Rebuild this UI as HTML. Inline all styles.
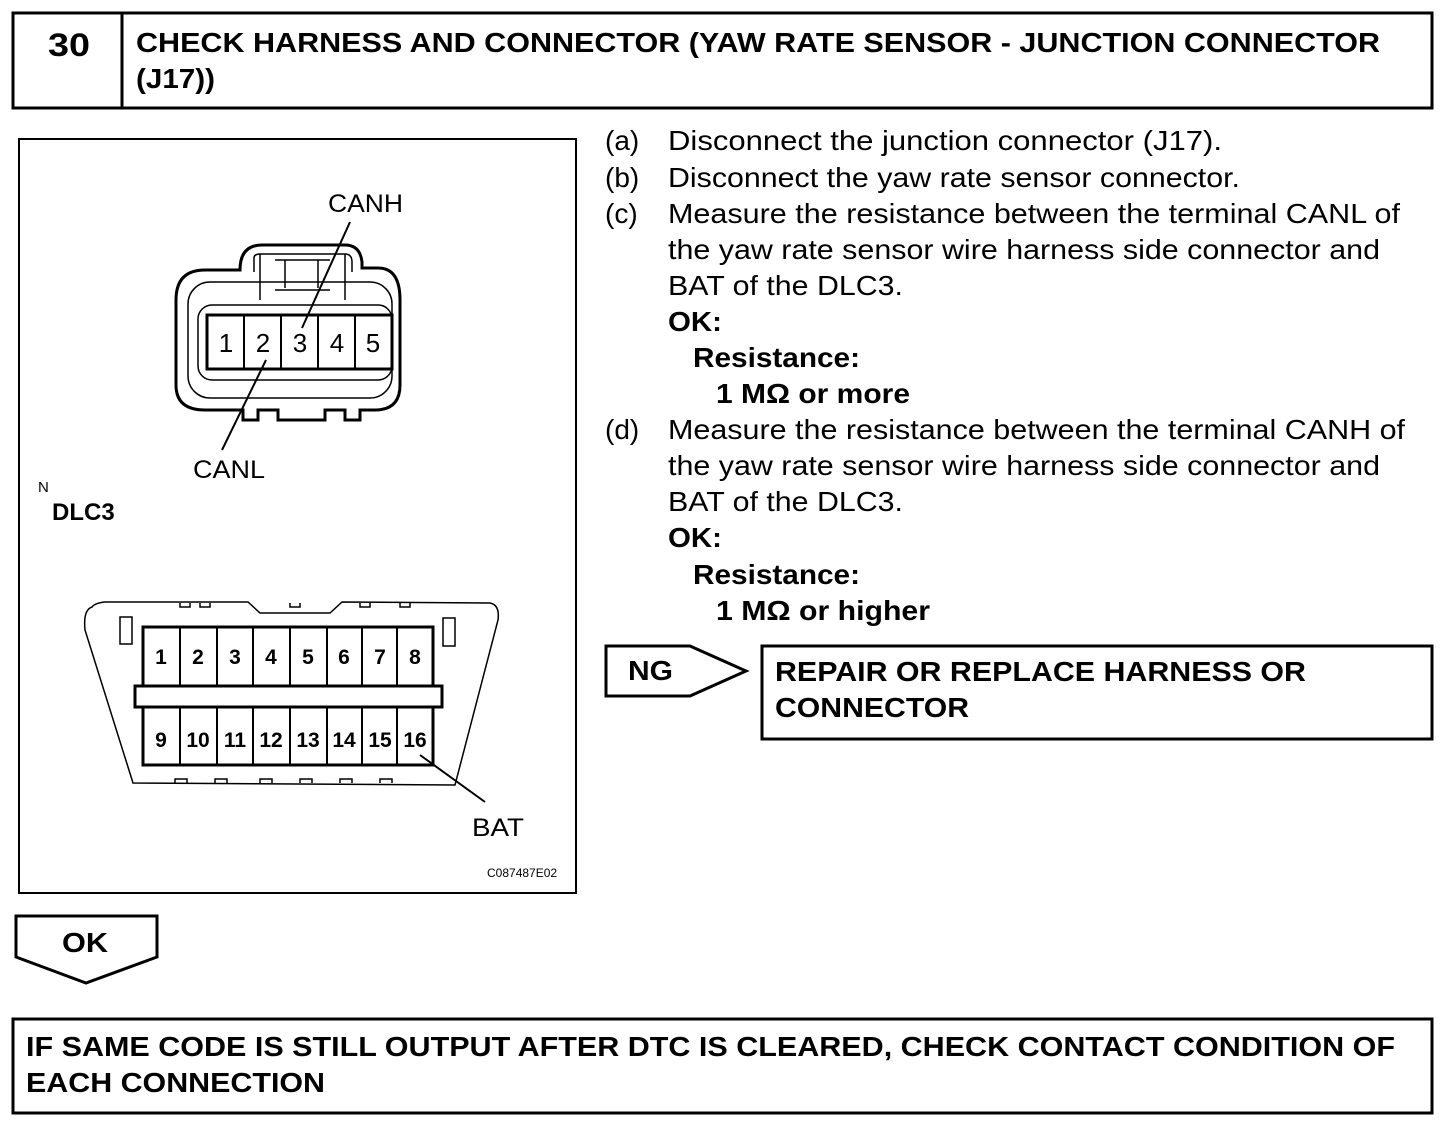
<!DOCTYPE html>
<html><head><meta charset="utf-8"><style>
html,body{margin:0;padding:0;background:#fff}
svg{display:block}
text{font-family:"Liberation Sans",Arial,sans-serif;fill:#000}
.b{font-weight:bold}
</style></head><body>
<svg width="1456" height="1134" viewBox="0 0 1456 1134" xmlns="http://www.w3.org/2000/svg">
<g fill="none" stroke="#000" stroke-width="3">
<rect x="13" y="13" width="1419" height="95"/>
<line x1="122" y1="13" x2="122" y2="108"/>
<rect x="19" y="139" width="557" height="754" stroke-width="2"/>
<polygon points="606,646 690,646 746,671 690,696 606,696"/>
<rect x="762" y="646" width="670" height="93"/>
<polygon points="16,916 157,916 157,957 86,983 16,957"/>
<rect x="13" y="1019" width="1419" height="94"/>
</g>
<text x="48" y="56" class="b" font-size="32" textLength="42" lengthAdjust="spacingAndGlyphs">30</text>
<text x="136" y="52" class="b" font-size="28" textLength="1244" lengthAdjust="spacingAndGlyphs">CHECK HARNESS AND CONNECTOR (YAW RATE SENSOR - JUNCTION CONNECTOR</text>
<text x="136" y="88" class="b" font-size="28" textLength="79" lengthAdjust="spacingAndGlyphs">(J17))</text>

<g font-size="28">
<text x="605" y="150">(a)</text><text x="668" y="150" textLength="554" lengthAdjust="spacingAndGlyphs">Disconnect the junction connector (J17).</text>
<text x="605" y="187">(b)</text><text x="668" y="187" textLength="572" lengthAdjust="spacingAndGlyphs">Disconnect the yaw rate sensor connector.</text>
<text x="605" y="223">(c)</text><text x="668" y="223" textLength="732" lengthAdjust="spacingAndGlyphs">Measure the resistance between the terminal CANL of</text>
<text x="668" y="259" textLength="712" lengthAdjust="spacingAndGlyphs">the yaw rate sensor wire harness side connector and</text>
<text x="668" y="295" textLength="235" lengthAdjust="spacingAndGlyphs">BAT of the DLC3.</text>
<text x="668" y="331" class="b" textLength="54" lengthAdjust="spacingAndGlyphs">OK:</text>
<text x="693" y="367" class="b" textLength="167" lengthAdjust="spacingAndGlyphs">Resistance:</text>
<text x="716" y="403" class="b" textLength="194" lengthAdjust="spacingAndGlyphs">1 MΩ or more</text>
<text x="605" y="439">(d)</text><text x="668" y="439" textLength="737" lengthAdjust="spacingAndGlyphs">Measure the resistance between the terminal CANH of</text>
<text x="668" y="475" textLength="712" lengthAdjust="spacingAndGlyphs">the yaw rate sensor wire harness side connector and</text>
<text x="668" y="511" textLength="235" lengthAdjust="spacingAndGlyphs">BAT of the DLC3.</text>
<text x="668" y="547" class="b" textLength="54" lengthAdjust="spacingAndGlyphs">OK:</text>
<text x="693" y="584" class="b" textLength="167" lengthAdjust="spacingAndGlyphs">Resistance:</text>
<text x="716" y="620" class="b" textLength="214" lengthAdjust="spacingAndGlyphs">1 MΩ or higher</text>
</g>
<text x="628" y="680" class="b" font-size="28" textLength="45" lengthAdjust="spacingAndGlyphs">NG</text>
<text x="775" y="681" class="b" font-size="28" textLength="531" lengthAdjust="spacingAndGlyphs">REPAIR OR REPLACE HARNESS OR</text>
<text x="775" y="717" class="b" font-size="28" textLength="194" lengthAdjust="spacingAndGlyphs">CONNECTOR</text>
<text x="62" y="952" class="b" font-size="28" textLength="46" lengthAdjust="spacingAndGlyphs">OK</text>
<text x="26" y="1056" class="b" font-size="28" textLength="1369" lengthAdjust="spacingAndGlyphs">IF SAME CODE IS STILL OUTPUT AFTER DTC IS CLEARED, CHECK CONTACT CONDITION OF</text>
<text x="26" y="1092" class="b" font-size="28" textLength="299" lengthAdjust="spacingAndGlyphs">EACH CONNECTION</text>

<!-- 5-pin connector -->
<g fill="none" stroke="#000">
<path d="M240,270 Q240,245 262,245 L345,245 Q360,245 362,262 L362,268 L378,268 Q400,268 400,300 L400,385 Q400,410 375,410 L360,410 L360,420 L345,420 L345,410 L325,410 L325,420 L278,420 L278,410 L258,410 L258,420 L243,420 L243,410 L205,410 Q176,410 176,385 L176,300 Q176,270 205,270 Z" stroke-width="3"/>
<path d="M254,272 L254,258 Q254,254 260,254 L345,254 Q352,254 352,262 L352,272" stroke-width="1.5"/>
<rect x="188" y="282" width="204" height="116" rx="22" stroke-width="1.5"/>
<rect x="198" y="305" width="194" height="75" rx="14" stroke-width="1.5"/>
<path d="M260,254 L260,300 M345,254 L345,300 M275,260 L330,260 M285,260 L285,288 M318,260 L318,288 M275,290 L330,290" stroke-width="1.5"/>
<rect x="207" y="315" width="185" height="54" fill="#fff" stroke-width="3"/>
<path d="M244,315V369M281,315V369M318,315V369M355,315V369" stroke-width="2"/>
<line x1="350" y1="222" x2="302" y2="328" stroke-width="2"/>
<line x1="222" y1="450" x2="266" y2="360" stroke-width="2"/>
</g>
<g font-size="26" text-anchor="middle">
<text x="226" y="352">1</text><text x="263" y="352">2</text><text x="300" y="352">3</text><text x="337" y="352">4</text><text x="373" y="352">5</text>
</g>
<text x="328" y="212" font-size="25" textLength="75" lengthAdjust="spacingAndGlyphs">CANH</text>
<text x="193" y="478" font-size="25" textLength="72" lengthAdjust="spacingAndGlyphs">CANL</text>
<text x="38" y="492" font-size="15">N</text>
<text x="52" y="520" class="b" font-size="24">DLC3</text>

<!-- DLC3 -->
<g fill="none" stroke="#000">
<path d="M92,607 Q95,603 105,602 L248,602 L260,613 L330,613 L342,602 L490,603 Q500,605 498,620 L455,785 L133,783 L85,630 Q83,610 92,607 Z" stroke-width="1.5"/>
<path d="M180,603v4h10v-4M200,603v4h10v-4M290,603v4h10v-4M360,603v4h10v-4M400,603v4h10v-4M175,783v-4h12v4M215,783v-4h12v4M260,783v-4h12v4M300,783v-4h12v4M340,783v-4h12v4M380,783v-4h12v4" stroke-width="1.5"/>
<rect x="120" y="617" width="12" height="27" stroke-width="1.5"/>
<rect x="443" y="618" width="12" height="28" stroke-width="1.5"/>
<rect x="143" y="627" width="290" height="138" stroke-width="3"/>
<rect x="135" y="686" width="307" height="21" fill="#fff" stroke-width="3"/>
<path d="M180,627V686M217,627V686M253,627V686M290,627V686M327,627V686M362,627V686M397,627V686M180,707V765M217,707V765M253,707V765M290,707V765M327,707V765M362,707V765M397,707V765" stroke-width="2"/>
<line x1="420" y1="755" x2="485" y2="802" stroke-width="2"/>
</g>
<g font-size="21" text-anchor="middle" font-weight="bold">
<text x="161" y="664">1</text><text x="198" y="664">2</text><text x="235" y="664">3</text><text x="271" y="664">4</text><text x="308" y="664">5</text><text x="344" y="664">6</text><text x="380" y="664">7</text><text x="415" y="664">8</text>
<text x="161" y="747">9</text><text x="198" y="747">10</text><text x="235" y="747">11</text><text x="271" y="747">12</text><text x="308" y="747">13</text><text x="344" y="747">14</text><text x="380" y="747">15</text><text x="415" y="747">16</text>
</g>
<text x="472" y="836" font-size="25" textLength="52" lengthAdjust="spacingAndGlyphs">BAT</text>
<text x="487" y="877" font-size="12">C087487E02</text>
</svg>
</body></html>
